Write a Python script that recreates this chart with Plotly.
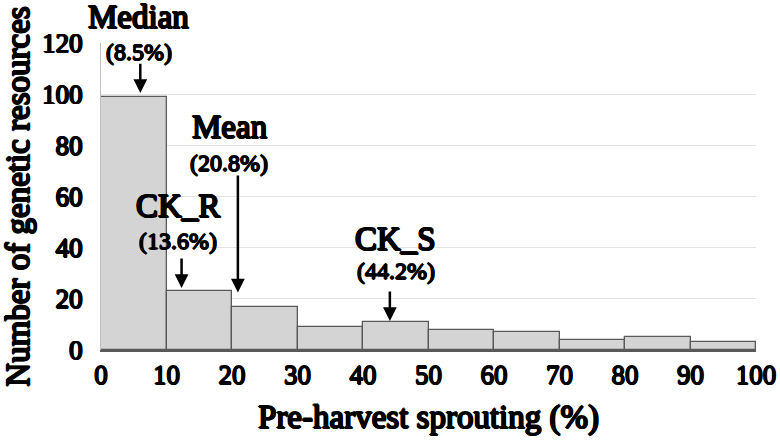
import plotly.graph_objects as go

# ---- data ----
bin_edges = [0, 10, 20, 30, 40, 50, 60, 70, 80, 90, 100]
counts = [99, 23, 17, 9, 11, 8, 7, 4, 5, 3]
x_ticks = [0, 10, 20, 30, 40, 50, 60, 70, 80, 90, 100]
y_ticks = [0, 20, 40, 60, 80, 100, 120]
marker_names = ["Median", "CK_R", "Mean", "CK_S"]
marker_values = [8.5, 13.6, 20.8, 44.2]

centers = [(a + b) / 2 for a, b in zip(bin_edges[:-1], bin_edges[1:])]
widths = [b - a for a, b in zip(bin_edges[:-1], bin_edges[1:])]

FONT = "Liberation Serif"


def sh(w):
    # heavier strokes via text-shadow (serif bold face is not installed)
    return (f"{w}px 0 0 black, -{w}px 0 0 black, 0 {w}px 0 black, 0 -{w}px 0 black, "
            f"{w*0.7:.2f}px {w*0.7:.2f}px 0 black, -{w*0.7:.2f}px -{w*0.7:.2f}px 0 black")


def f(size, w):
    return dict(family=FONT, size=size, color="black", shadow=sh(w))


fig = go.Figure()
fig.add_trace(go.Bar(
    x=centers, y=counts, width=widths,
    marker=dict(color="#d4d4d4", line=dict(color="#595959", width=1.3)),
    showlegend=False, hoverinfo="x+y",
))

label_layout = {
    "Median": dict(lx=5.8, ny=1.085, vy=0.972, axx=6.0, tip=100.5, tail=112.5),
    "CK_R": dict(lx=11.8, ny=0.47, vy=0.355, axx=12.3, tip=24.2, tail=36.4),
    "Mean": dict(lx=19.6, ny=0.725, vy=0.61, axx=20.9, tip=22.5, tail=68.8),
    "CK_S": dict(lx=45.0, ny=0.362, vy=0.258, axx=44.1, tip=11.3, tail=23.5),
}

for name, val in zip(marker_names, marker_values):
    p = label_layout[name]
    fig.add_annotation(x=p["lx"], y=p["ny"], xref="x", yref="paper", text=name,
                       showarrow=False, xanchor="center", yanchor="middle",
                       font=f(33, 1.0))
    fig.add_annotation(x=p["lx"], y=p["vy"], xref="x", yref="paper", text=f"({val}%)",
                       showarrow=False, xanchor="center", yanchor="middle",
                       font=f(24, 0.7))
    fig.add_annotation(x=p["axx"], y=p["tip"], xref="x", yref="y",
                       ax=p["axx"], ay=p["tail"], axref="x", ayref="y",
                       text="", showarrow=True, arrowhead=2, arrowsize=1.1,
                       arrowwidth=2.5, arrowcolor="black")

fig.update_layout(
    width=780, height=442,
    margin=dict(l=101, r=24, t=43, b=92, autoexpand=False),
    paper_bgcolor="white", plot_bgcolor="white",
    bargap=0,
    font=dict(family=FONT, color="black"),
    xaxis=dict(
        range=[0, 100], tickvals=x_ticks, ticktext=[str(t) for t in x_ticks],
        tickfont=f(27, 0.8),
        showgrid=False, zeroline=False, showline=True, linecolor="#595959", linewidth=1.5,
        ticks="", automargin=False,
        title=dict(text="Pre-harvest sprouting (%)", standoff=16, font=f(33, 1.0)),
    ),
    yaxis=dict(
        range=[0, 120], tickvals=y_ticks, ticktext=[str(t) for t in y_ticks],
        tickfont=f(27, 0.8),
        showgrid=True, gridcolor="#e3e3e3", gridwidth=1.2,
        zeroline=False, showline=True, linecolor="#bfbfbf", linewidth=1,
        ticks="outside", ticklen=12, tickcolor="rgba(0,0,0,0)", automargin=False,
        title=dict(text="Number of genetic resources", standoff=4, font=f(33, 1.0)),
    ),
)

fig.write_html("out.html")
